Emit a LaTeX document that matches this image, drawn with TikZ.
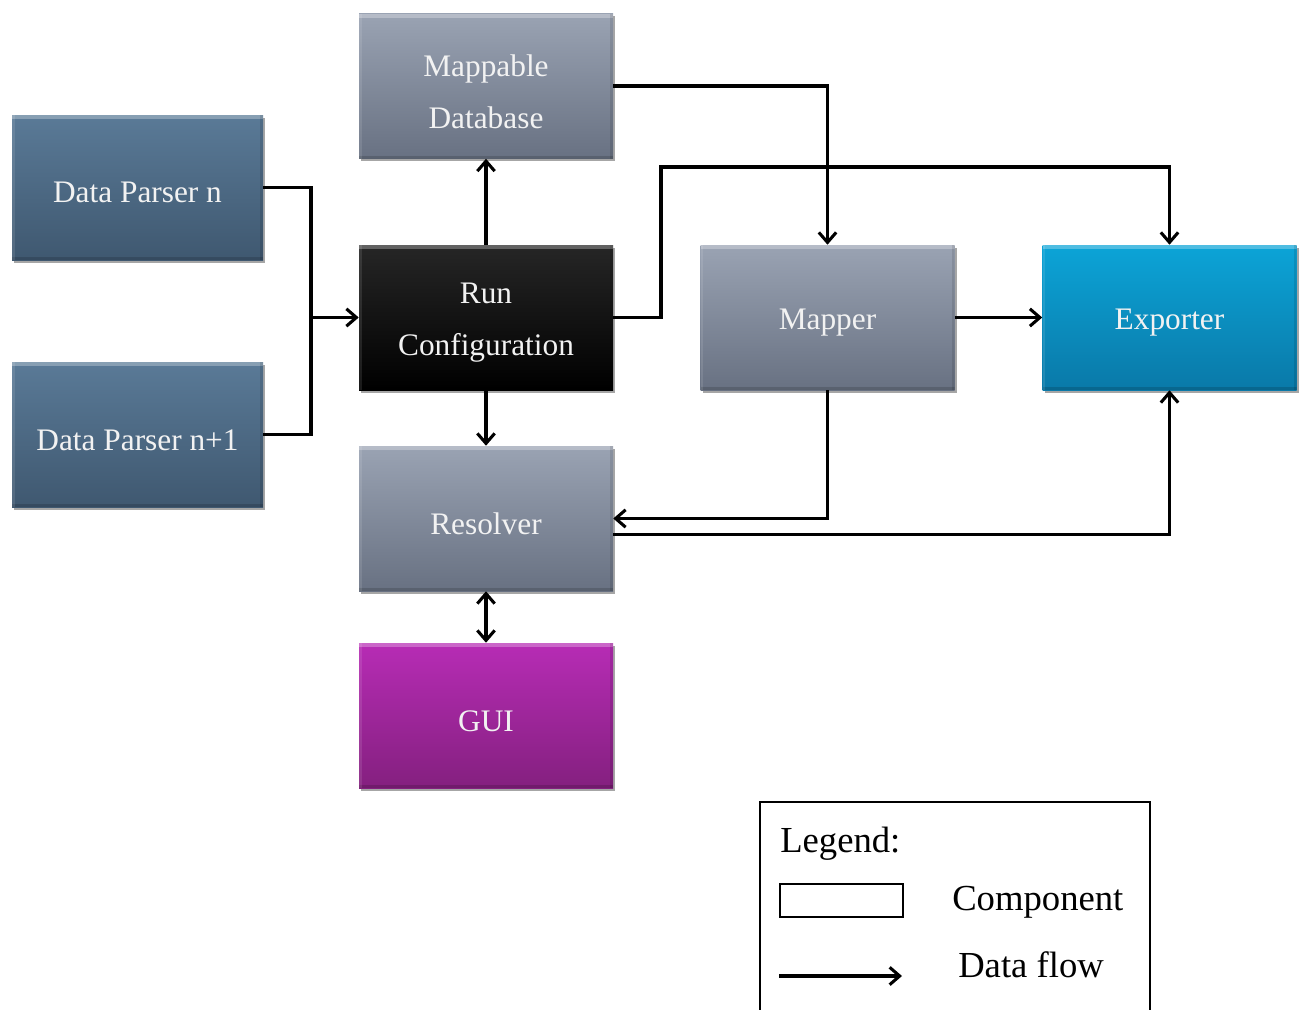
\documentclass[tikz,border=0pt]{standalone}
\usepackage{fontspec}
\setmainfont{Liberation Serif}
\usetikzlibrary{arrows.meta,shadows}

\definecolor{parserTop}{HTML}{5A7A97}
\definecolor{parserBot}{HTML}{3F5870}
\definecolor{greyTop}{HTML}{9AA3B3}
\definecolor{greyBot}{HTML}{687182}
\definecolor{runTop}{HTML}{262626}
\definecolor{runBot}{HTML}{000000}
\definecolor{expTop}{HTML}{0CA4D7}
\definecolor{expBot}{HTML}{0A79A8}
\definecolor{guiTop}{HTML}{B72CB5}
\definecolor{guiBot}{HTML}{84207F}
\definecolor{labelText}{HTML}{F2F2F2}

\begin{document}
\begin{tikzpicture}[x=0.75pt,y=-0.75pt,
  comp/.style={minimum width=190.5pt, minimum height=108.75pt, inner sep=0pt,
    drop shadow={shadow xshift=1.8pt, shadow yshift=-2pt, opacity=0.35, fill=black},
    path picture={
      \fill[white,opacity=0.28] (path picture bounding box.north west)
        rectangle ([yshift=-3pt]path picture bounding box.north east);
      \fill[black,opacity=0.15] (path picture bounding box.south west)
        rectangle ([yshift=2pt]path picture bounding box.south east);
      \fill[white,opacity=0.10] (path picture bounding box.north west)
        rectangle ([xshift=2pt]path picture bounding box.south west);
      \fill[black,opacity=0.10] (path picture bounding box.north east)
        rectangle ([xshift=-2pt]path picture bounding box.south east);
    }},
  caption/.style={text=labelText, align=center, inner sep=0pt, yshift=-4pt,
    font=\fontsize{23.5}{39}\selectfont},
  parser/.style={comp, minimum width=188.25pt, top color=parserTop, bottom color=parserBot},
  grey/.style={comp, top color=greyTop, bottom color=greyBot},
  runbox/.style={comp, top color=runTop, bottom color=runBot},
  expbox/.style={comp, top color=expTop, bottom color=expBot},
  guibox/.style={comp, top color=guiTop, bottom color=guiBot},
  line/.style={line width=2.3pt, line join=miter},
  tip/.tip={Straight Barb[length=7.5pt,width=13pt]},
  flow/.style={line, -tip},
  flow2/.style={line, tip-tip},
  legtext/.style={font=\fontsize{27.5}{33}\selectfont, anchor=base west, inner sep=0pt}
]
\useasboundingbox (0,0) rectangle (1304,1010);

% components (captions sit slightly below the box centre)
\node[parser] (dpn)  at (137.5,187.5) {};
\node[caption] (dpnT) at (dpn) {Data Parser n};
\node[parser] (dpn1) at (137.5,434.5) {};
\node[caption] (dpn1T) at (dpn1) {Data Parser n+1};
\node[grey]   (mdb)  at (486,86) {};
\node[caption] (mdbT) at (mdb) {Mappable\\Database};
\node[runbox] (run)  at (486,317.5) {};
\node[caption] (runT) at (run) {Run\\Configuration};
\node[grey]   (res)  at (486,518.5) {};
\node[caption] (resT) at (res) {Resolver};
\node[guibox] (gui)  at (486,715.5) {};
\node[caption] (guiT) at (gui) {GUI};
\node[grey]   (map)  at (827.5,317.5) {};
\node[caption] (mapT) at (map) {Mapper};
\node[expbox] (exp)  at (1169.5,317.5) {};
\node[caption] (expT) at (exp) {Exporter};

% routing points
\coordinate (join) at (311,317.5);
\coordinate (bend) at (661,167);

% data flows
\draw[line] (dpn.east) -| (join);
\draw[line] (dpn1.east) -| (join);
\draw[flow] (join) -- (run.west);
\draw[flow] (run.north) -- (mdb.south);
\draw[flow] (run.south) -- (res.north);
\draw[flow] (mdb.east) -| (map.north);
\draw[flow] (run.east) -| (bend) -| (exp.north);
\draw[flow] (map.east) -- (exp.west);
\draw[flow] (map.south) |- (res.east);
\draw[flow] ([yshift=-12pt]res.east) -| (exp.south);
\draw[flow2] (res.south) -- (gui.north);

% legend
\draw[line width=1.4pt] (760,1012) |- (1150,802) -- (1150,1012);
\node[legtext] (legtitle) at (780,852) {Legend:};
\node[draw, line width=1.4pt, minimum width=92pt, minimum height=24.75pt, inner sep=0pt, anchor=north west] (legbox) at (779,883) {};
\node[legtext] (legcomp) at (952,910) {Component};
\coordinate (legfrom) at (779,976);
\coordinate (legto) at (902,976);
\draw[flow] (legfrom) -- (legto);
\node[legtext] (legflow) at (958,977) {Data flow};
\end{tikzpicture}
\end{document}
